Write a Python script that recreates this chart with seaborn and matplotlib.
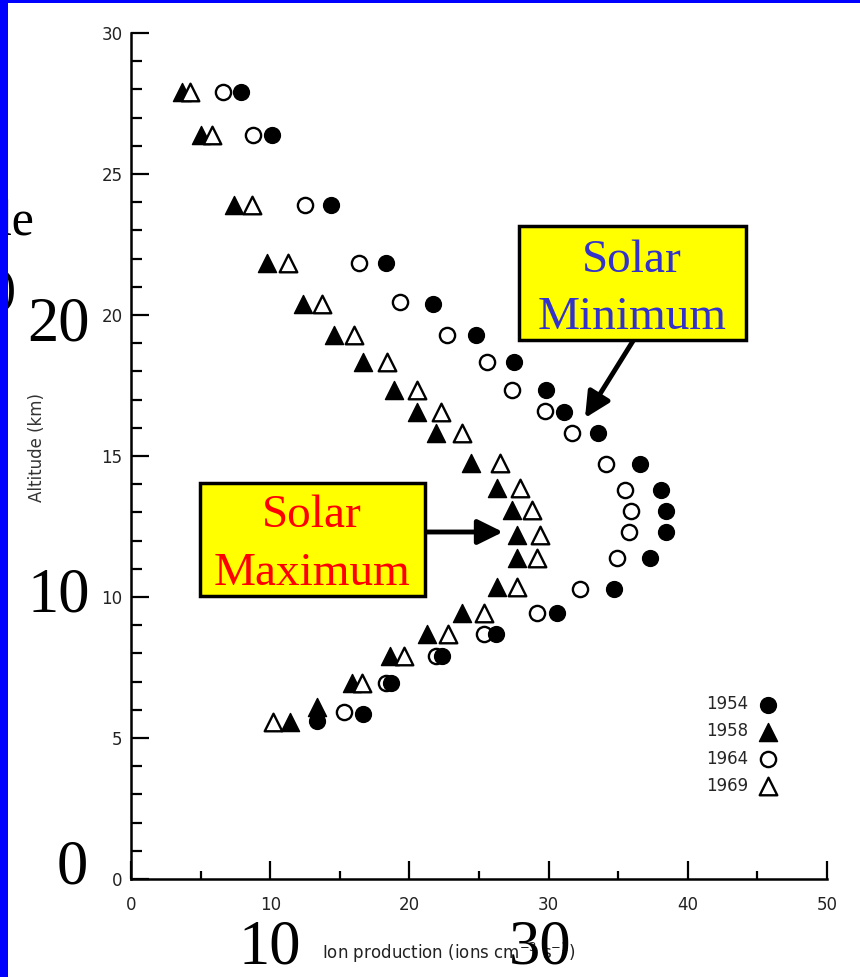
import matplotlib
matplotlib.use("Agg")
import matplotlib.pyplot as plt
import seaborn as sns
from matplotlib.patches import Rectangle
from matplotlib.ticker import MultipleLocator

# ---------------- data ----------------
x_1954 = [7.9, 10.1, 14.4, 18.35, 21.7, 24.75, 27.55, 29.8, 31.1, 33.55, 36.6, 38.05,
          38.4, 38.4, 37.3, 34.7, 30.6, 26.2, 22.35, 18.65, 16.7, 13.35]
y_1954 = [27.9, 26.4, 23.9, 21.85, 20.4, 19.3, 18.35, 17.35, 16.55, 15.8, 14.7, 13.8,
          13.05, 12.3, 11.37, 10.3, 9.42, 8.7, 7.9, 6.94, 5.84, 5.6]

x_1958 = [3.65, 5.0, 7.4, 9.75, 12.35, 14.55, 16.7, 18.9, 20.55, 21.9, 24.4, 26.3,
          27.4, 27.75, 27.75, 26.3, 23.8, 21.3, 18.6, 15.9, 13.35, 11.45]
y_1958 = [27.9, 26.4, 23.9, 21.85, 20.4, 19.3, 18.35, 17.35, 16.55, 15.8, 14.76, 13.85,
          13.1, 12.2, 11.37, 10.37, 9.42, 8.7, 7.9, 6.94, 6.1, 5.55]

x_1964 = [6.6, 8.75, 12.5, 16.35, 19.35, 22.7, 25.6, 27.4, 29.75, 31.7, 34.1, 35.5,
          35.9, 35.8, 34.9, 32.25, 29.2, 25.35, 21.9, 18.35, 15.3]
y_1964 = [27.9, 26.4, 23.9, 21.85, 20.45, 19.3, 18.35, 17.35, 16.6, 15.8, 14.7, 13.8,
          13.05, 12.3, 11.37, 10.3, 9.42, 8.7, 7.9, 6.94, 5.93]

x_1969 = [4.24, 5.8, 8.7, 11.3, 13.7, 16.05, 18.4, 20.55, 22.3, 23.8, 26.5, 27.95,
          28.8, 29.4, 29.2, 27.75, 25.35, 22.8, 19.6, 16.6, 10.2]
y_1969 = [27.9, 26.4, 23.9, 21.85, 20.4, 19.3, 18.35, 17.35, 16.55, 15.8, 14.76, 13.85,
          13.1, 12.2, 11.37, 10.37, 9.42, 8.7, 7.9, 6.94, 5.55]

legend_years = ["1954", "1958", "1964", "1969"]
x_ticks = [0, 10, 20, 30, 40, 50]
y_ticks = [0, 5, 10, 15, 20, 25, 30]
big_x_labels = ["10", "30"]
big_y_labels = ["20", "10", "0"]

# ---------------- style ----------------
sns.set_style("white")
plt.rcParams["font.family"] = ["DejaVu Sans"]
plt.rcParams["mathtext.default"] = "regular"
SERIF = ["Liberation Serif", "DejaVu Serif"]

W, H = 860, 977
fig = plt.figure(figsize=(W / 100, H / 100), dpi=100)
fig.patch.set_facecolor("white")


def fx(px):
    return px / W


def fy(py):
    return 1 - py / H


ax = fig.add_axes([fx(131), fy(879), (827 - 131) / W, (879 - 33) / H])

# scatter series (open first so filled ones sit on top, as in the scan)
sns.scatterplot(x=x_1964, y=y_1964, ax=ax, marker="o", s=120, color="white",
                edgecolor="black", linewidth=1.7, legend=False, zorder=3)
sns.scatterplot(x=x_1954, y=y_1954, ax=ax, marker="o", s=130, color="black",
                edgecolor="black", linewidth=1.0, legend=False, zorder=4)
sns.scatterplot(x=x_1958, y=y_1958, ax=ax, marker="^", s=170, color="black",
                edgecolor="black", linewidth=1.0, legend=False, zorder=5)
sns.scatterplot(x=x_1969, y=y_1969, ax=ax, marker="^", s=160, color="white",
                edgecolor="black", linewidth=1.7, legend=False, zorder=6)

coll_1964, coll_1954, coll_1958, coll_1969 = ax.collections[:4]

ax.set_xlim(0, 50)
ax.set_ylim(0, 30)
ax.set_xticks(x_ticks)
ax.set_yticks(y_ticks)
ax.xaxis.set_minor_locator(MultipleLocator(5))
ax.yaxis.set_minor_locator(MultipleLocator(1))
ax.tick_params(which="both", bottom=True, left=True, top=False, right=False)
ax.tick_params(which="major", direction="in", length=13, width=1.6,
               labelsize=12, colors="black", labelcolor="#222222")
ax.tick_params(axis="x", which="major", pad=12)
ax.tick_params(axis="y", which="major", pad=6)
ax.tick_params(axis="y", which="minor", direction="in", length=8, width=1.6,
               color="black")
ax.tick_params(axis="x", which="minor", direction="in", length=6, width=1.6,
               color="black")
sns.despine(ax=ax)
for sp in ["left", "bottom"]:
    ax.spines[sp].set_linewidth(1.8)
    ax.spines[sp].set_color("black")
ax.set_facecolor("white")
ax.grid(False)

ax.set_ylabel("Altitude (km)", fontsize=12, color="#333333", va="center")
ax.yaxis.set_label_coords((37 - 131) / 696, (879 - 447) / 846)
ax.set_xlabel("Ion production (ions cm$^{-3}$ s$^{-1}$)", fontsize=12,
              color="#222222", ha="left", va="center")
ax.xaxis.set_label_coords((322 - 131) / 696, (879 - 953) / 846)

# legend (text left of marker)
leg = ax.legend([coll_1954, coll_1958, coll_1964, coll_1969], legend_years,
                markerfirst=False, frameon=False, fontsize=12,
                handletextpad=0.55, handlelength=1.2, labelspacing=0.55,
                loc="center", bbox_to_anchor=(fx(742), fy(745)),
                bbox_transform=fig.transFigure)

# ---------------- slide overlay ----------------
# big serif numbers
big_pos_y = [(59, 340), (59, 612), (72, 883)]
for lab, (px_, py_) in zip(big_y_labels, big_pos_y):
    fig.text(fx(px_), fy(py_), lab, family=SERIF, fontsize=45, ha="center",
             va="baseline", color="black", zorder=7)
big_pos_x = [(270, 963), (540, 963)]
for lab, (px_, py_) in zip(big_x_labels, big_pos_x):
    fig.text(fx(px_), fy(py_), lab, family=SERIF, fontsize=45, ha="center",
             va="baseline", color="black", zorder=7)

# partially hidden axis title of the slide
fig.text(fx(34), fy(235), "Altitude", family=SERIF, fontsize=36, ha="right",
         va="baseline", color="black", zorder=7)
fig.text(fx(17), fy(303), "(km)", family=SERIF, fontsize=36, ha="right",
         va="baseline", color="black", zorder=7)

# yellow boxes
box_min = Rectangle((fx(519), fy(340)), (746 - 519) / W, (340 - 226) / H,
                    transform=fig.transFigure, facecolor="#FFFF00",
                    edgecolor="black", linewidth=2.5, zorder=8)
fig.add_artist(box_min)
fig.text(fx(632), fy(272), "Solar", family=SERIF, fontsize=34, ha="center",
         va="baseline", color="#3333CC", zorder=9)
fig.text(fx(632), fy(329), "Minimum", family=SERIF, fontsize=34, ha="center",
         va="baseline", color="#3333CC", zorder=9)

box_max = Rectangle((fx(200), fy(596)), (425 - 200) / W, (596 - 483) / H,
                    transform=fig.transFigure, facecolor="#FFFF00",
                    edgecolor="black", linewidth=2.5, zorder=8)
fig.add_artist(box_max)
fig.text(fx(312), fy(527), "Solar", family=SERIF, fontsize=34, ha="center",
         va="baseline", color="#FF0000", zorder=9)
fig.text(fx(312), fy(585), "Maximum", family=SERIF, fontsize=34, ha="center",
         va="baseline", color="#FF0000", zorder=9)

# arrows
arrow_style = dict(arrowstyle="-|>,head_length=0.85,head_width=0.42", lw=3.5,
                   color="black", shrinkA=0, shrinkB=0, mutation_scale=18)
ax.annotate("", xy=(585, H - 418), xycoords="figure pixels",
            xytext=(633, H - 341), textcoords="figure pixels",
            arrowprops=arrow_style, annotation_clip=False, zorder=9)
ax.annotate("", xy=(503, H - 532), xycoords="figure pixels",
            xytext=(426, H - 532), textcoords="figure pixels",
            arrowprops=arrow_style, annotation_clip=False, zorder=9)

# blue slide border
fig.add_artist(Rectangle((0, 0), 7.5 / W, 1, transform=fig.transFigure,
                         facecolor="#0000FF", edgecolor="none", zorder=20))
fig.add_artist(Rectangle((0, 1 - 3 / H), 1, 3 / H, transform=fig.transFigure,
                         facecolor="#0000FF", edgecolor="none", zorder=20))

fig.savefig("out.png", dpi=100)
